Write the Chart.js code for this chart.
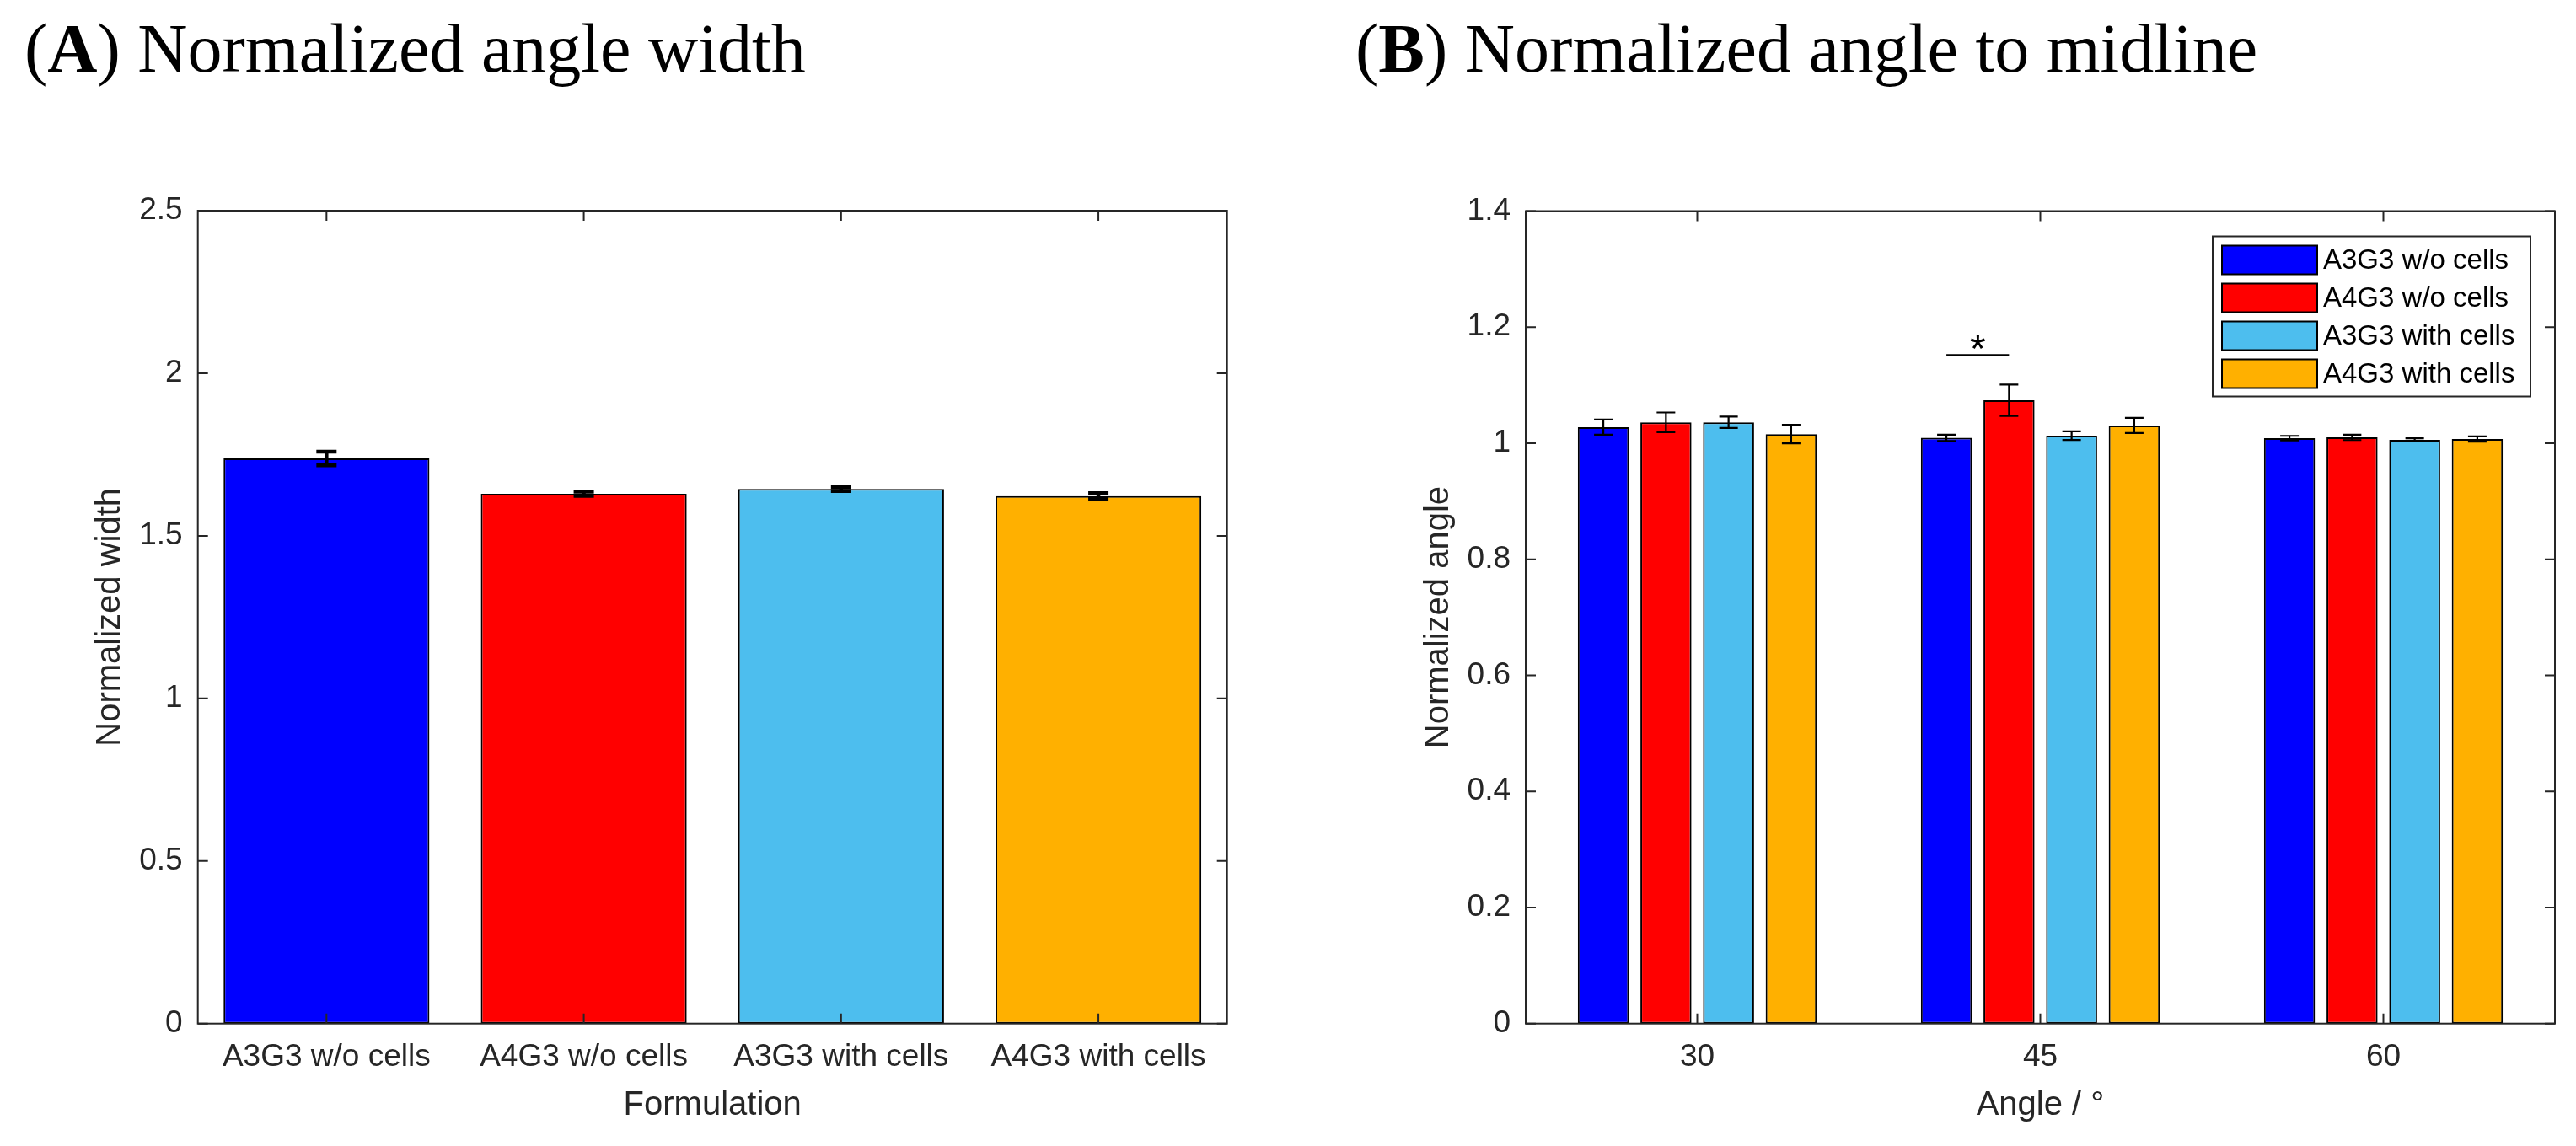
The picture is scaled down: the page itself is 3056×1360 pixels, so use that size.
<!DOCTYPE html>
<html>
<head>
<meta charset="utf-8">
<script src="https://cdn.jsdelivr.net/npm/chart.js@4.4.1/dist/chart.umd.min.js"></script>
<style>
  html, body { margin: 0; padding: 0; background: #ffffff; width: 3056px; height: 1360px; overflow: hidden; }
  .title { position: absolute; top: 17px; font-family: "Liberation Serif", "Times New Roman", serif; font-size: 82px; line-height: 82px; color: #000; white-space: nowrap; }
  .title b { font-weight: bold; }
  canvas { position: absolute; top: 0; }
</style>
</head>
<body>
<div class="title" style="left:29px">(<b>A</b>) Normalized angle width</div>
<div class="title" style="left:1608px">(<b>B</b>) Normalized angle to midline</div>
<canvas id="chartA" width="1530" height="1360" style="left:0px;width:1530px;height:1360px"></canvas>
<canvas id="chartB" width="1526" height="1360" style="left:1530px;width:1526px;height:1360px"></canvas>
<script>
// ---------- DATA ----------
const formulations = ['A3G3 w/o cells', 'A4G3 w/o cells', 'A3G3 with cells', 'A4G3 with cells'];
const seriesColors = ['#0000FF', '#FF0000', '#4DBEEE', '#FFB000'];

// Panel A: normalized angle width
const widthMeans = [1.738, 1.629, 1.644, 1.622];
const widthErrors = [0.021, 0.0065, 0.006, 0.009];
const widthYTicks = { min: 0, max: 2.5, step: 0.5 };

// Panel B: normalized angle to midline
const angleCategories = ['30', '45', '60'];
const angleA3G3wo   = [1.0277, 1.0093, 1.0087];
const angleA4G3wo   = [1.036, 1.074, 1.010];
const angleA3G3with = [1.036, 1.013, 1.0058];
const angleA4G3with = [1.0157, 1.0306, 1.0073];
const errA3G3wo   = [0.013, 0.0055, 0.004];
const errA4G3wo   = [0.017, 0.027, 0.0046];
const errA3G3with = [0.0098, 0.0074, 0.0027];
const errA4G3with = [0.016, 0.013, 0.0046];
const angleYTicks = { min: 0, max: 1.4, step: 0.2 };
// significance marker: group index, between series 0 and 1
const sigGroup = 1, sigFrom = 0, sigTo = 1, sigLineValue = 1.152, sigStarValue = 1.179, sigText = '*';

// ---------- PLUGINS ----------
const AXIS_COLOR = '#262626';
const SANS = '"Liberation Sans", Arial, sans-serif';

const boxPlugin = {
  id: 'matlabBox',
  afterDatasetsDraw(chart, args, opts) {
    const { ctx, chartArea: { left, right, top, bottom }, scales: { x, y } } = chart;
    const L = opts.tickLen || 12;
    ctx.save();
    ctx.strokeStyle = AXIS_COLOR;
    ctx.lineWidth = 2;
    ctx.beginPath();
    y.ticks.forEach((t, i) => {
      const py = y.getPixelForTick(i);
      ctx.moveTo(left, py); ctx.lineTo(left + L, py);
      ctx.moveTo(right, py); ctx.lineTo(right - L, py);
    });
    x.ticks.forEach((t, i) => {
      const px = x.getPixelForTick(i);
      ctx.moveTo(px, bottom); ctx.lineTo(px, bottom - L);
      ctx.moveTo(px, top); ctx.lineTo(px, top + L);
    });
    ctx.stroke();
    ctx.strokeRect(left, top, right - left, bottom - top);
    ctx.restore();
  }
};

const errorBarPlugin = {
  id: 'errorBars',
  afterDatasetsDraw(chart, args, opts) {
    const { ctx, scales: { y } } = chart;
    ctx.save();
    ctx.strokeStyle = '#000';
    ctx.lineWidth = opts.lineWidth;
    ctx.lineCap = 'butt';
    chart.data.datasets.forEach((ds, di) => {
      const meta = chart.getDatasetMeta(di);
      meta.data.forEach((el, i) => {
        const v = ds.data[i], e = ds.errors[i];
        const yt = y.getPixelForValue(v + e), yb = y.getPixelForValue(v - e);
        const w = opts.capHalf;
        ctx.beginPath();
        ctx.moveTo(el.x, yt); ctx.lineTo(el.x, yb);
        ctx.moveTo(el.x - w, yt); ctx.lineTo(el.x + w, yt);
        ctx.moveTo(el.x - w, yb); ctx.lineTo(el.x + w, yb);
        ctx.stroke();
      });
    });
    ctx.restore();
  }
};

const sigPlugin = {
  id: 'significance',
  afterDatasetsDraw(chart) {
    const { ctx, scales: { y } } = chart;
    const x1 = chart.getDatasetMeta(sigFrom).data[sigGroup].x;
    const x2 = chart.getDatasetMeta(sigTo).data[sigGroup].x;
    const yl = y.getPixelForValue(sigLineValue);
    const ys = y.getPixelForValue(sigStarValue);
    ctx.save();
    ctx.strokeStyle = '#000';
    ctx.lineWidth = 2;
    ctx.beginPath(); ctx.moveTo(x1, yl); ctx.lineTo(x2, yl); ctx.stroke();
    ctx.fillStyle = '#000';
    const fs = 48;
    ctx.font = fs + 'px ' + SANS;
    ctx.textAlign = 'center';
    ctx.textBaseline = 'alphabetic';
    ctx.fillText(sigText, (x1 + x2) / 2, ys + 0.57 * fs);
    ctx.restore();
  }
};

const legendPlugin = {
  id: 'boxLegend',
  afterDraw(chart, args, opts) {
    const { ctx, chartArea: { right, top } } = chart;
    const bw = 377, bh = 190;
    const bx = right - 29 - bw, by = top + 30;
    ctx.save();
    ctx.fillStyle = '#fff';
    ctx.fillRect(bx, by, bw, bh);
    ctx.strokeStyle = AXIS_COLOR;
    ctx.lineWidth = 2;
    ctx.strokeRect(bx, by, bw, bh);
    ctx.font = '33px ' + SANS;
    ctx.textBaseline = 'middle';
    ctx.textAlign = 'left';
    chart.data.datasets.forEach((ds, i) => {
      const sy = by + 11 + i * 45;
      ctx.fillStyle = ds.backgroundColor;
      ctx.fillRect(bx + 11, sy, 113, 34);
      ctx.strokeStyle = '#000';
      ctx.lineWidth = 2;
      ctx.strokeRect(bx + 11, sy, 113, 34);
      ctx.fillStyle = '#000';
      ctx.fillText(ds.label, bx + 131, sy + 17 + 1);
    });
    ctx.restore();
  }
};

Chart.defaults.font.family = SANS;
Chart.defaults.color = AXIS_COLOR;

function yAxis(ticks, width, titleText, titlePad) {
  return {
    type: 'linear',
    min: ticks.min, max: ticks.max,
    grid: { display: false, drawTicks: false },
    border: { display: false },
    ticks: {
      stepSize: ticks.step, font: { size: 37 }, color: AXIS_COLOR, padding: 18,
      callback: (v) => String(Math.round(v * 1000) / 1000)
    },
    title: { display: true, text: titleText, font: { size: 40 }, color: AXIS_COLOR, padding: { top: titlePad, bottom: 0 } },
    afterFit(s) { s.width = width; }
  };
}
function xAxis(titleText, height) {
  return {
    type: 'category',
    offset: true,
    grid: { display: false, drawTicks: false, offset: true },
    border: { display: false },
    ticks: { font: { size: 37 }, color: AXIS_COLOR, padding: 18, autoSkip: false, maxRotation: 0, minRotation: 0 },
    title: { display: true, text: titleText, font: { size: 40 }, color: AXIS_COLOR, padding: { top: 0, bottom: 24 } },
    afterFit(s) { s.height = height; }
  };
}

// ---------- CHART A ----------
new Chart(document.getElementById('chartA'), {
  type: 'bar',
  data: {
    labels: formulations,
    datasets: [{
      label: 'Normalized width',
      data: widthMeans,
      errors: widthErrors,
      backgroundColor: seriesColors,
      borderColor: '#000',
      borderWidth: 2,
      borderSkipped: false,
      categoryPercentage: 1.0,
      barPercentage: 0.8
    }]
  },
  options: {
    responsive: false,
    animation: false,
    devicePixelRatio: 1,
    layout: { padding: { left: 0, top: 250, right: 74.3, bottom: 0 } },
    scales: {
      x: xAxis('Formulation', 145.3),
      y: yAxis(widthYTicks, 234.7, 'Normalized width', 106.7)
    },
    plugins: {
      legend: { display: false },
      tooltip: { enabled: false },
      matlabBox: { tickLen: 12 },
      errorBars: { lineWidth: 4.5, capHalf: 12 }
    }
  },
  plugins: [errorBarPlugin, boxPlugin]
});

// ---------- CHART B ----------
const angleSeries = [angleA3G3wo, angleA4G3wo, angleA3G3with, angleA4G3with];
const angleErrs = [errA3G3wo, errA4G3wo, errA3G3with, errA4G3with];
new Chart(document.getElementById('chartB'), {
  type: 'bar',
  data: {
    labels: angleCategories,
    datasets: formulations.map((name, i) => ({
      label: name,
      data: angleSeries[i],
      errors: angleErrs[i],
      backgroundColor: seriesColors[i],
      borderColor: '#000',
      borderWidth: 2,
      borderSkipped: false,
      categoryPercentage: 0.73,
      barPercentage: 0.815
    }))
  },
  options: {
    responsive: false,
    animation: false,
    devicePixelRatio: 1,
    layout: { padding: { left: 0, top: 250.5, right: 25, bottom: 0 } },
    scales: {
      x: xAxis('Angle / °', 145.3),
      y: yAxis(angleYTicks, 280, 'Normalized angle', 152.7)
    },
    plugins: {
      legend: { display: false },
      tooltip: { enabled: false },
      matlabBox: { tickLen: 12 },
      errorBars: { lineWidth: 2.2, capHalf: 11 }
    }
  },
  plugins: [errorBarPlugin, sigPlugin, boxPlugin, legendPlugin]
});
</script>
</body>
</html>
